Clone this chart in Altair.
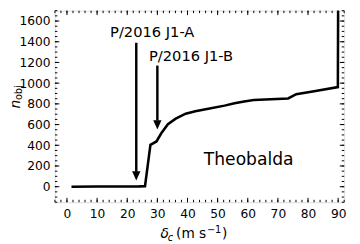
import altair as alt
import pandas as pd

# main curve
curve_x = [1.5, 10, 20, 24, 25.9, 27.7, 29.7, 31.3, 33.5, 36.1, 39.4, 42.6, 46.9, 52.3, 55.6, 58.8, 62.0, 73.4, 76.1, 82.5, 89.9, 90.0]
curve_y = [0, 1, 2, 3, 5, 405, 437, 516, 604, 657, 705, 729, 752, 783, 805, 824, 837, 852, 893, 925, 962, 1800]

# arrows
arrow_x = [23, 30]
arrow_top = [1390, 1170]
arrow_tip = [60, 553]
arrow_label = ["P/2016 J1-A", "P/2016 J1-B"]
label_x = [28.3, 41.2]
label_y = [1443, 1214]

name_text = ["Theobalda"]
name_x = [60.3]
name_y = [214]

x_major = list(range(0, 91, 10))
x_minor = list(range(-4, 93, 2))
y_major = list(range(0, 1601, 200))
y_minor = list(range(-150, 1701, 50))

W, H = 296, 196
FONT = "DejaVu Sans"

xs = alt.Scale(domain=[-4, 92], nice=False, zero=False)
ys = alt.Scale(domain=[-150, 1700], nice=False, zero=False)

xaxis = alt.Axis(values=x_major, ticks=False, tickSize=0, grid=False, domain=False, labelPadding=6,
                 labelFontSize=12.5, format="d", labelOverlap=False, labelFont=FONT, labelColor="black", title=None)
yaxis = alt.Axis(values=y_major, ticks=False, tickSize=0, grid=False, domain=False, labelPadding=5,
                 labelFontSize=12.5, format="d", labelOverlap=False, labelFont=FONT, labelColor="black", title=None)

curve = pd.DataFrame({"x": curve_x, "y": curve_y})
arrows = pd.DataFrame({"x": arrow_x, "top": arrow_top, "tip": arrow_tip})
labels = pd.DataFrame({"x": label_x, "y": label_y, "t": arrow_label})
name = pd.DataFrame({"x": name_x, "y": name_y, "t": name_text})
one = pd.DataFrame({"k": [0]})

def X(f="x:Q"):
    return alt.X(f, scale=xs, axis=xaxis)

def Y(f="y:Q"):
    return alt.Y(f, scale=ys, axis=yaxis)

line = alt.Chart(curve).mark_line(color="black", strokeWidth=2.6, clip=True).encode(x=X(), y=Y())

# arrow shafts stop at head top
arrows["shaft_end"] = [t + 85 for t in arrow_tip]
shaft = alt.Chart(arrows).mark_rule(color="black", strokeWidth=2.5).encode(
    x=X(), y=Y("top:Q"), y2="shaft_end:Q")
head = alt.Chart(arrows).mark_point(
    shape="M-1,-2.2L1,-2.2L0,0Z", size=72, filled=True, color="black", opacity=1
).encode(x=X(), y=Y("tip:Q"))

lab = alt.Chart(labels).mark_text(fontSize=15, font=FONT, color="black", baseline="alphabetic", align="center").encode(
    x=X(), y=Y(), text="t:N")
nm = alt.Chart(name).mark_text(fontSize=17.5, font=FONT, color="black", baseline="alphabetic", align="center").encode(
    x=X(), y=Y(), text="t:N")

# inward ticks on all four sides
def xticks(vals, length):
    d = pd.DataFrame({"x": vals})
    b = alt.Chart(d).mark_rule(color="black", strokeWidth=1).encode(
        x=X(), y=alt.value(H), y2=alt.value(H - length))
    t = alt.Chart(d).mark_rule(color="black", strokeWidth=1).encode(
        x=X(), y=alt.value(0), y2=alt.value(length))
    return [b, t]

def yticks(vals, length):
    d = pd.DataFrame({"y": vals})
    l = alt.Chart(d).mark_rule(color="black", strokeWidth=1).encode(
        y=Y(), x=alt.value(0), x2=alt.value(length))
    r = alt.Chart(d).mark_rule(color="black", strokeWidth=1).encode(
        y=Y(), x=alt.value(W), x2=alt.value(W - length))
    return [l, r]

tick_layers = xticks(x_major, 4.5) + xticks(x_minor, 2.5) + yticks(y_major, 4.5) + yticks(y_minor, 2.5)

# axis titles built from text pieces
def txt(s, x, y, size, style="normal", angle=0):
    kw = dict(text=s, fontSize=size, font=FONT, color="black", align="left", baseline="alphabetic", fontStyle=style)
    if angle:
        kw["angle"] = angle
    return alt.Chart(one).mark_text(**kw).encode(x=alt.value(x), y=alt.value(y))

titles = [
    txt("δ", 108, 233, 14, "italic"),
    txt("c", 115.5, 235.5, 10, "italic"),
    txt("(m s", 124, 233, 14),
    txt("−1", 155.5, 227, 10),
    txt(")", 171, 233, 14),
    txt("n", -36, 100, 14, "italic", 270),
    txt("obj", -33.5, 91.5, 10, "normal", 270),
]

chart = alt.layer(line, shaft, head, lab, nm, *tick_layers, *titles).properties(
    width=W, height=H,
    autosize=alt.AutoSizeParams(type="none"),
    padding={"left": 48, "top": 0, "right": 8, "bottom": 40},
).configure_view(stroke="black", strokeWidth=1.1).configure_axis(labelOverlap=False).configure(background="white")

chart.save("out.html", embed_options={"renderer": "svg", "actions": False})
